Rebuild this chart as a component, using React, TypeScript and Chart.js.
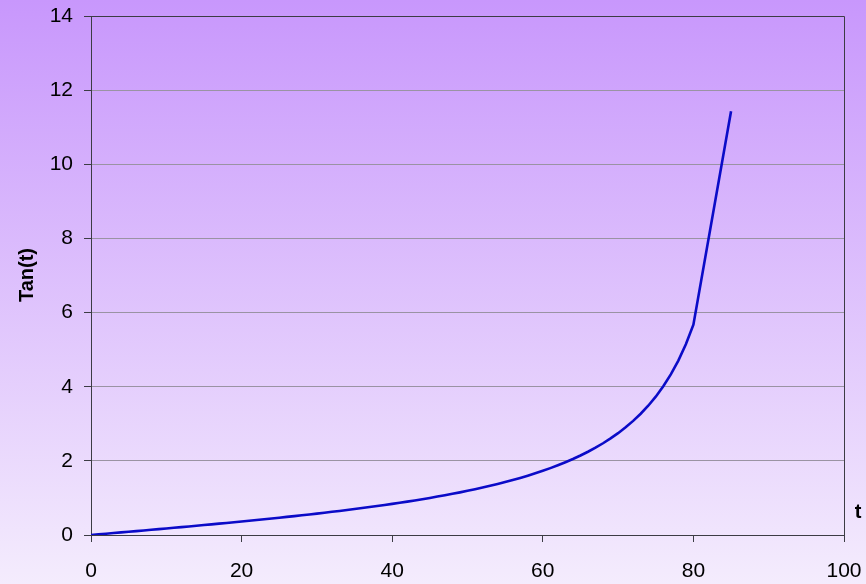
import React, { useEffect, useRef } from "react";
import { Chart, registerables } from "chart.js";

Chart.register(...registerables);

// Angle t in degrees and tan(t)
const angles: number[] = [
  0, 1, 2, 3, 4, 5, 6, 7, 8, 9, 10, 11, 12, 13, 14, 15, 16, 17, 18, 19, 20,
  21, 22, 23, 24, 25, 26, 27, 28, 29, 30, 31, 32, 33, 34, 35, 36, 37, 38, 39, 40,
  41, 42, 43, 44, 45, 46, 47, 48, 49, 50, 51, 52, 53, 54, 55, 56, 57, 58, 59, 60,
  61, 62, 63, 64, 65, 66, 67, 68, 69, 70, 71, 72, 73, 74, 75, 76, 77, 78, 79, 80,
  85,
];

const tanValues: number[] = [
  0, 0.017, 0.035, 0.052, 0.07, 0.087, 0.105, 0.123, 0.141, 0.158, 0.176,
  0.194, 0.213, 0.231, 0.249, 0.268, 0.287, 0.306, 0.325, 0.344, 0.364,
  0.384, 0.404, 0.424, 0.445, 0.466, 0.488, 0.51, 0.532, 0.554, 0.577,
  0.601, 0.625, 0.649, 0.675, 0.7, 0.727, 0.754, 0.781, 0.81, 0.839,
  0.869, 0.9, 0.933, 0.966, 1.0, 1.036, 1.072, 1.111, 1.15, 1.192,
  1.235, 1.28, 1.327, 1.376, 1.428, 1.483, 1.54, 1.6, 1.664, 1.732,
  1.804, 1.881, 1.963, 2.05, 2.145, 2.246, 2.356, 2.475, 2.605, 2.747,
  2.904, 3.078, 3.271, 3.487, 3.732, 4.011, 4.331, 4.705, 5.145, 5.671,
  11.43,
];

const xTitle = "t";
const yTitle = "Tan(t)";

const FONT = "'Liberation Sans', Arial, sans-serif";

const backgroundAndFrame = {
  id: "backgroundAndFrame",
  beforeDraw(chart: Chart) {
    const { ctx, width, height } = chart;
    const g = ctx.createLinearGradient(0, 0, 0, height);
    g.addColorStop(0, "#c897fc");
    g.addColorStop(1, "#f4ecfd");
    ctx.save();
    ctx.fillStyle = g;
    ctx.fillRect(0, 0, width, height);
    ctx.restore();
  },
  afterDraw(chart: Chart) {
    const { ctx, chartArea } = chart;
    const { left, right, top, bottom } = chartArea;
    ctx.save();
    ctx.strokeStyle = "#3c3c44";
    ctx.lineWidth = 1;
    ctx.beginPath();
    ctx.moveTo(Math.round(left) + 0.5, Math.round(top) + 0.5);
    ctx.lineTo(Math.round(right) + 0.5, Math.round(top) + 0.5);
    ctx.lineTo(Math.round(right) + 0.5, Math.round(bottom) + 0.5);
    ctx.stroke();

    ctx.fillStyle = "#000000";
    ctx.font = `bold 20px ${FONT}`;
    ctx.textAlign = "center";
    ctx.textBaseline = "middle";
    ctx.fillText(xTitle, 858, 512);

    ctx.translate(27, 275);
    ctx.rotate(-Math.PI / 2);
    ctx.fillText(yTitle, 0, 0);
    ctx.restore();
  },
};

// Fix the axis box sizes and drop the label overflow padding so the
// plot area sits exactly where the layout padding puts it.
function fixBox(size: number, horizontal: boolean) {
  return (scale: any) => {
    if (horizontal) scale.height = size;
    else scale.width = size;
    scale.paddingTop = 0;
    scale.paddingBottom = 0;
    scale.paddingLeft = 0;
    scale.paddingRight = 0;
  };
}

export default function App() {
  const canvasRef = useRef<HTMLCanvasElement | null>(null);

  useEffect(() => {
    document.body.style.margin = "0";
    const canvas = canvasRef.current;
    if (!canvas) return;
    const points = angles.map((t, i) => ({ x: t, y: tanValues[i] }));
    const chart = new Chart(canvas, {
      type: "line",
      data: {
        datasets: [
          {
            data: points,
            borderColor: "#0b0bc8",
            borderWidth: 2.6,
            pointRadius: 0,
            tension: 0,
            fill: false,
          },
        ],
      },
      options: {
        animation: false,
        responsive: false,
        maintainAspectRatio: false,
        layout: { padding: { top: 16, right: 22, left: 0, bottom: 0 } },
        plugins: {
          legend: { display: false },
          tooltip: { enabled: false },
          title: { display: false },
        },
        scales: {
          x: {
            type: "linear",
            min: 0,
            max: 100,
            afterFit: fixBox(49, true),
            ticks: {
              stepSize: 20,
              color: "#000000",
              font: { family: FONT, size: 21 },
              padding: 17,
              maxRotation: 0,
            },
            grid: {
              drawOnChartArea: false,
              drawTicks: true,
              tickLength: 7,
              tickColor: "#3c3c44",
            },
            border: { color: "#3c3c44", width: 1 },
          },
          y: {
            min: 0,
            max: 14,
            afterFit: fixBox(91, false),
            ticks: {
              stepSize: 2,
              color: "#000000",
              font: { family: FONT, size: 21 },
              padding: 11,
            },
            grid: {
              color: "#9a93a3",
              lineWidth: 1,
              drawTicks: true,
              tickLength: 7,
              tickColor: "#3c3c44",
            },
            border: { color: "#3c3c44", width: 1 },
          },
        },
      },
      plugins: [backgroundAndFrame],
    });
    return () => chart.destroy();
  }, []);

  return (
    <div style={{ position: "absolute", left: 0, top: 0, width: 866, height: 584 }}>
      <canvas ref={canvasRef} width={866} height={584} style={{ display: "block" }} />
    </div>
  );
}
